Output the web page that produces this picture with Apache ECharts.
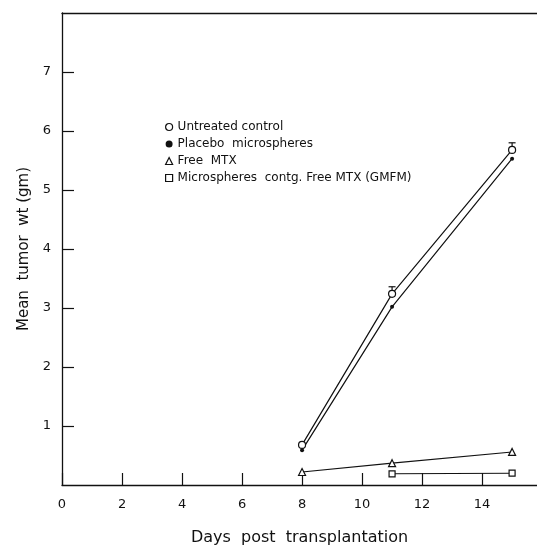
<!DOCTYPE html>
<html>
<head>
<meta charset="utf-8">
<script src="https://cdn.jsdelivr.net/npm/echarts@6/dist/echarts.min.js"></script>
<style>
  html, body { margin: 0; padding: 0; background: #fff; }
  #chart { width: 537px; height: 546px; }
</style>
</head>
<body>
<div id="chart"></div>
<script>
// values (days post transplantation / mean tumor wt in gm)
var days = [8, 11, 15]
var controlWt = [0.68, 3.24, 5.68]
var controlErr = [0, 0.12, 0.12]
var placeboWt = [0.59, 3.02, 5.53]
var mtxWt = [0.22, 0.37, 0.56]
var gmfmDays = [11, 15]
var gmfmWt = [0.19, 0.2]

var xTicks = [0, 2, 4, 6, 8, 10, 12, 14]
var yTicks = [1, 2, 3, 4, 5, 6, 7]

var names = ['Untreated control', 'Placebo  microspheres', 'Free  MTX', 'Microspheres  contg. Free MTX (GMFM)']

var font = 'DejaVu Sans'
var ink = '#111'

function pairs (xs, ys) {
  return xs.map(function (x, i) { return [x, ys[i]] })
}

var chart = echarts.init(document.getElementById('chart'))

var openMark = { color: '#fff', borderColor: ink, borderWidth: 1.2 }

chart.setOption({
  animation: false,
  grid: { left: 62, right: 0, top: 13, bottom: 61, outerBoundsMode: 'none', containLabel: false },
  legend: {
    orient: 'vertical',
    left: 160,
    top: 116,
    itemGap: 5,
    itemWidth: 7,
    itemHeight: 7,
    textStyle: { fontFamily: font, fontSize: 12, color: ink },
    data: [
      { name: names[0], icon: 'circle', itemStyle: openMark },
      { name: names[1], icon: 'circle', itemStyle: { color: ink, borderWidth: 0 } },
      { name: names[2], icon: 'triangle', itemStyle: openMark },
      { name: names[3], icon: 'rect', itemStyle: openMark }
    ]
  },
  xAxis: [{
    type: 'value',
    min: 0,
    max: 15.83,
    interval: 2,
    name: 'Days  post  transplantation',
    nameLocation: 'middle',
    nameGap: 45,
    nameTextStyle: { fontFamily: font, fontSize: 16, color: ink },
    axisLine: { lineStyle: { color: ink, width: 1.3 } },
    axisTick: { inside: true, length: 12, lineStyle: { color: ink, width: 1.2 } },
    axisLabel: {
      fontFamily: font, fontSize: 13, color: ink, margin: 13,
      showMaxLabel: false,
      formatter: function (v) { return xTicks.indexOf(v) >= 0 ? String(v) : '' }
    },
    splitLine: { show: false }
  }, {
    type: 'value',
    position: 'top',
    min: 0,
    max: 15.83,
    axisLine: { lineStyle: { color: ink, width: 1.3 } },
    axisTick: { show: false },
    axisLabel: { show: false },
    splitLine: { show: false }
  }],
  yAxis: {
    type: 'value',
    min: 0,
    max: 8,
    interval: 1,
    name: 'Mean  tumor  wt (gm)',
    nameLocation: 'middle',
    nameGap: 30,
    nameTextStyle: { fontFamily: font, fontSize: 15, color: ink },
    axisLine: { show: true, lineStyle: { color: ink, width: 1.3 } },
    axisTick: { inside: true, length: 12, lineStyle: { color: ink, width: 1.2 } },
    axisLabel: {
      fontFamily: font, fontSize: 13, color: ink, margin: 11,
      showMinLabel: false, showMaxLabel: false,
      formatter: function (v) { return yTicks.indexOf(v) >= 0 ? String(v) : '' }
    },
    splitLine: { show: false }
  },
  series: [{
    name: names[0],
    type: 'line',
    data: pairs(days, controlWt),
    symbol: 'circle',
    symbolSize: 7,
    lineStyle: { color: ink, width: 1.2 },
    itemStyle: openMark,
    z: 3
  }, {
    name: names[1],
    type: 'line',
    data: pairs(days, placeboWt),
    symbol: 'circle',
    symbolSize: 4,
    lineStyle: { color: ink, width: 1.2 },
    itemStyle: { color: ink, borderWidth: 0 },
    z: 2
  }, {
    name: names[2],
    type: 'line',
    data: pairs(days, mtxWt),
    symbol: 'triangle',
    symbolSize: 7,
    lineStyle: { color: ink, width: 1.1 },
    itemStyle: openMark
  }, {
    name: names[3],
    type: 'line',
    data: pairs(gmfmDays, gmfmWt),
    symbol: 'rect',
    symbolSize: 6,
    lineStyle: { color: ink, width: 1.1 },
    itemStyle: openMark
  }, {
    // upward error bars on the control series
    type: 'custom',
    data: days.map(function (d, i) { return [d, controlWt[i], controlErr[i]] }),
    renderItem: function (params, api) {
      if (!api.value(2)) return null
      var p0 = api.coord([api.value(0), api.value(1)])
      var p1 = api.coord([api.value(0), api.value(1) + api.value(2)])
      var st = { stroke: ink, lineWidth: 1.2 }
      return {
        type: 'group',
        children: [
          { type: 'line', shape: { x1: p0[0], y1: p0[1] - 3, x2: p1[0], y2: p1[1] }, style: st },
          { type: 'line', shape: { x1: p1[0] - 3.5, y1: p1[1], x2: p1[0] + 3.5, y2: p1[1] }, style: st }
        ]
      }
    },
    z: 4
  }]
})
</script>
</body>
</html>
